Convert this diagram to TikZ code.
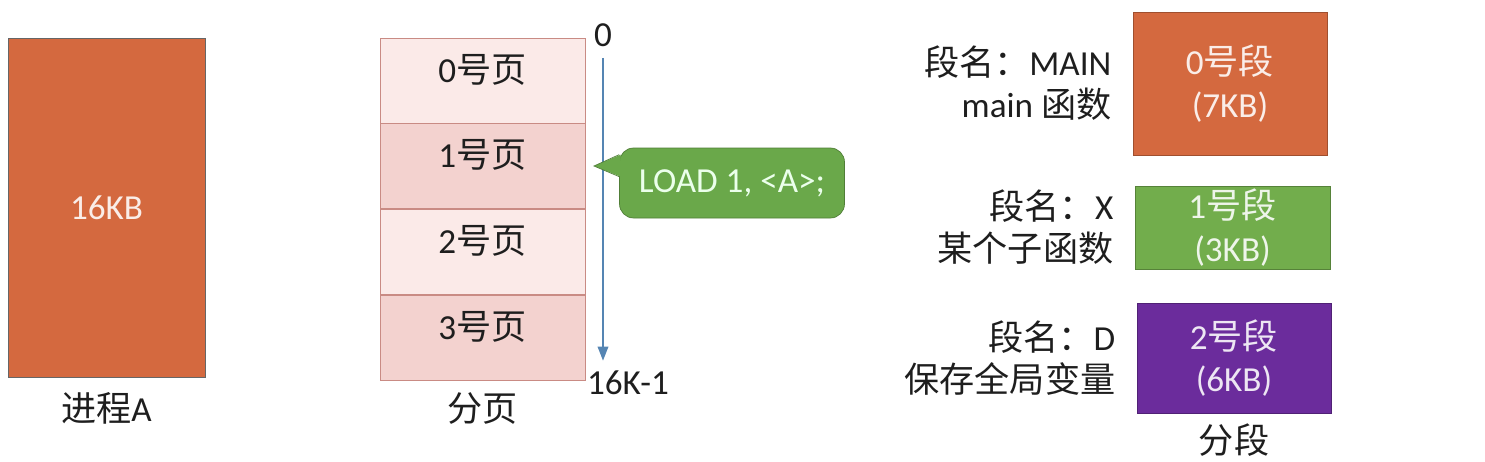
\documentclass[tikz,border=0pt]{standalone}
\usepackage{fontspec}
\setmainfont{Carlito}
\newfontfamily\zh{Noto Sans CJK SC}
\usetikzlibrary{positioning, arrows.meta, calc}
\definecolor{procorange}{HTML}{D4693F}
\definecolor{pglight}{HTML}{FBEAE8}
\definecolor{pgdark}{HTML}{F3D2CF}
\definecolor{pgline}{HTML}{C98B84}
\definecolor{axisblue}{HTML}{5585B3}
\definecolor{callgreen}{HTML}{6AA84A}
\definecolor{seggreen}{HTML}{72AD4C}
\definecolor{segpurple}{HTML}{6B2C9C}
\definecolor{txtdark}{HTML}{1E1E1E}

\begin{document}
\begin{tikzpicture}[x=0.02cm, y=-0.02cm, font=\fontsize{20}{24}\selectfont, text=txtdark,
      blk/.style={draw=#1!75!black, fill=#1, text=#1!12!white, align=center, inner sep=0pt},
      pg/.style={draw=pgline, fill=#1, minimum width=4.1cm, minimum height=1.7cm, text depth=0.5cm, inner sep=0pt},
      lbl/.style={align=right, inner sep=0pt}]
    \useasboundingbox (0,0) rectangle (1485,461);
    \node[blk=procorange, draw=gray!80!black, minimum width=3.94cm, minimum height=6.78cm] (proc) at (106.5,207.5) {16KB};
    \node[lbl, below=0.3cm of proc] (procl) {{\zh 进程}A};
    \node[pg=pglight] (p0) at (482.5,80.5) {0{\zh 号页}};
    \node[pg=pgdark, below=0pt of p0] (p1) {1{\zh 号页}};
    \node[pg=pglight, below=0pt of p1] (p2) {2{\zh 号页}};
    \node[pg=pgdark, below=0pt of p2] (p3) {3{\zh 号页}};
    \node[lbl, below=0.23cm of p3] (pgl) {\zh 分页};
    \node[lbl] (zero) at (603,35) {0};
    \node[lbl] (kend) at (628,383) {16K-1};
    \draw[axisblue, line width=1pt, shorten <=0.22cm, shorten >=0.2cm, -{Triangle[length=8pt, width=6pt]}] (zero.south) -- (zero.south |- kend.north);
    \node[blk=callgreen, minimum width=4.5cm, minimum height=1.4cm, rounded corners=8pt, text=green!8!white] (cmd) at (732,183) {LOAD 1, <A>;};
    \coordinate (tip) at (594,166);
    \fill[callgreen] (tip) -- ($(cmd.north west)+(1.5,7)$) -- ($(cmd.north west)+(1.5,29)$) -- cycle;
    \draw[callgreen!75!black] ($(cmd.north west)+(0,7)$) -- (tip) -- ($(cmd.north west)+(0,29)$);
    \node[blk=procorange, minimum width=3.88cm, minimum height=2.86cm] (s0) at (1230,83.5) {0{\zh 号段}\\(7KB)};
    \node[blk=seggreen, minimum width=3.9cm, minimum height=1.66cm] (s1) at (1232.5,227.5) {1{\zh 号段}\\(3KB)};
    \node[blk=segpurple, minimum width=3.88cm, minimum height=2.2cm] (s2) at (1234,358) {2{\zh 号段}\\(6KB)};
    \node[lbl, left=0.42cm of s0] (n0) {{\zh 段名：}MAIN\\main {\zh 函数}};
    \node[lbl, left=0.42cm of s1] (n1) {{\zh 段名：}X\\{\zh 某个子函数}};
    \node[lbl, left=0.42cm of s2] (n2) {{\zh 段名：}D\\{\zh 保存全局变量}};
    \node[lbl, below=0.21cm of s2] (sgl) {\zh 分段};
  \end{tikzpicture}
\end{document}
